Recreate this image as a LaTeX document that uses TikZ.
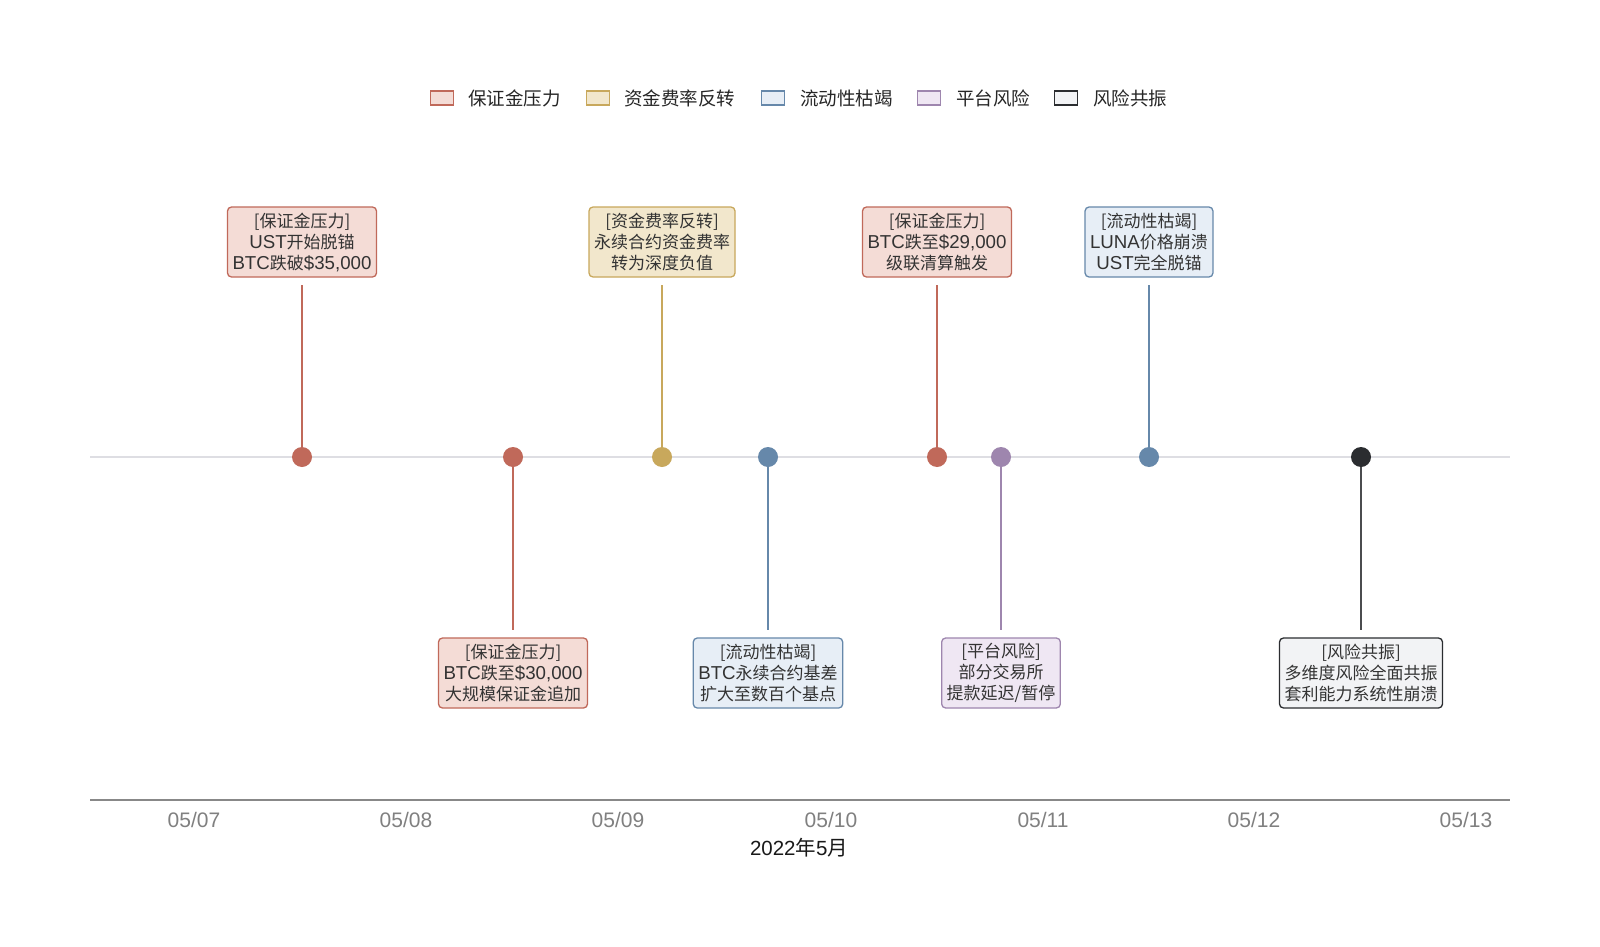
\documentclass[tikz,border=0pt]{standalone}
\usepackage{fontspec}
\setmainfont{Noto Sans CJK SC}
\newfontfamily\latf[Scale=1.1]{Liberation Sans}
\newfontfamily\tickf{Liberation Sans}
\begin{document}
\begin{tikzpicture}[x=1pt,y=-1pt,
  every node/.style={inner sep=0pt, outer sep=0pt},
  evbox/.style={draw, rounded corners=4pt, line width=1.3pt, align=center, font=\fontsize{17}{21}\selectfont, text=black!80, inner xsep=5pt, inner ysep=4pt, minimum height=70pt},
  dotn/.style={circle, minimum size=20pt},
  stem/.style={line width=2pt},
  legsq/.style={draw, line width=1.3pt, minimum width=23pt, minimum height=14pt},
  legtx/.style={anchor=west, font=\fontsize{18.5}{20}\selectfont, text=black!85},
  tick/.style={font=\tickf\fontsize{21}{22}\selectfont, text=black!50},
]
\definecolor{rS}{HTML}{C0695A}\definecolor{rF}{HTML}{F4DCD6}
\definecolor{gS}{HTML}{C8A85C}\definecolor{gF}{HTML}{F2E7CC}
\definecolor{bS}{HTML}{6688AA}\definecolor{bF}{HTML}{E7EEF6}
\definecolor{pS}{HTML}{9E86AE}\definecolor{pF}{HTML}{EFE7F3}
\definecolor{kS}{HTML}{2B2D30}\definecolor{kF}{HTML}{F2F3F5}
\definecolor{tl}{HTML}{DEDEE3}
\definecolor{ax}{HTML}{888888}
\useasboundingbox[fill=white] (0,0) rectangle (1600,947);

% legend
\node[legsq, draw=rS, fill=rF] (l1) at (442,98) {};
\node[legtx] (lt1) at (468,98) {保证金压力};
\node[legsq, draw=gS, fill=gF] (l2) at (598,98) {};
\node[legtx] (lt2) at (624,98) {资金费率反转};
\node[legsq, draw=bS, fill=bF] (l3) at (773,98) {};
\node[legtx] (lt3) at (800,98) {流动性枯竭};
\node[legsq, draw=pS, fill=pF] (l4) at (929,98) {};
\node[legtx] (lt4) at (956,98) {平台风险};
\node[legsq, draw=kS, fill=kF] (l5) at (1066,98) {};
\node[legtx] (lt5) at (1093,98) {风险共振};

% timeline
\coordinate (tlA) at (90,457);
\coordinate (tlB) at (1510,457);
\draw[tl, line width=2pt] (tlA) -- (tlB);

% axis
\coordinate (axA) at (90,800);
\coordinate (axB) at (1510,800);
\draw[ax, line width=2pt] (axA) -- (axB);
\node[tick] (t7) at (194,819.5) {05/07};
\node[tick] (t8) at (406,819.5) {05/08};
\node[tick] (t9) at (618,819.5) {05/09};
\node[tick] (t10) at (831,819.5) {05/10};
\node[tick] (t11) at (1043,819.5) {05/11};
\node[tick] (t12) at (1254,819.5) {05/12};
\node[tick] (t13) at (1466,819.5) {05/13};
\node[font=\fontsize{20.5}{22}\selectfont, text=black!90] (xl) at (799,848) {{\tickf 2022}年{\tickf 5}月};

% boxes
\node[evbox, draw=rS, fill=rF] (b1) at (302,242) {[保证金压力]\\{\latf UST}开始脱锚\\{\latf BTC}跌破{\latf \$35,000}};
\node[evbox, draw=rS, fill=rF] (b2) at (513,673) {[保证金压力]\\{\latf BTC}跌至{\latf \$30,000}\\大规模保证金追加};
\node[evbox, draw=gS, fill=gF] (b3) at (662,242) {[资金费率反转]\\永续合约资金费率\\转为深度负值};
\node[evbox, draw=bS, fill=bF] (b4) at (768,673) {[流动性枯竭]\\{\latf BTC}永续合约基差\\扩大至数百个基点};
\node[evbox, draw=rS, fill=rF] (b5) at (937,242) {[保证金压力]\\{\latf BTC}跌至{\latf \$29,000}\\级联清算触发};
\node[evbox, draw=pS, fill=pF] (b6) at (1001,673) {[平台风险]\\部分交易所\\提款延迟/暂停};
\node[evbox, draw=bS, fill=bF] (b7) at (1149,242) {[流动性枯竭]\\{\latf LUNA}价格崩溃\\{\latf UST}完全脱锚};
\node[evbox, draw=kS, fill=kF] (b8) at (1361,673) {[风险共振]\\多维度风险全面共振\\套利能力系统性崩溃};

% dots
\node[dotn, fill=rS] (d1) at (302,457) {};
\node[dotn, fill=rS] (d2) at (513,457) {};
\node[dotn, fill=gS] (d3) at (662,457) {};
\node[dotn, fill=bS] (d4) at (768,457) {};
\node[dotn, fill=rS] (d5) at (937,457) {};
\node[dotn, fill=pS] (d6) at (1001,457) {};
\node[dotn, fill=bS] (d7) at (1149,457) {};
\node[dotn, fill=kS] (d8) at (1361,457) {};

% stems
\draw[stem, draw=rS, shorten >=8pt] (d1.north) -- (b1.south);
\draw[stem, draw=rS, shorten >=8pt] (d2.south) -- (b2.north);
\draw[stem, draw=gS, shorten >=8pt] (d3.north) -- (b3.south);
\draw[stem, draw=bS, shorten >=8pt] (d4.south) -- (b4.north);
\draw[stem, draw=rS, shorten >=8pt] (d5.north) -- (b5.south);
\draw[stem, draw=pS, shorten >=8pt] (d6.south) -- (b6.north);
\draw[stem, draw=bS, shorten >=8pt] (d7.north) -- (b7.south);
\draw[stem, draw=kS!85, shorten >=8pt] (d8.south) -- (b8.north);
\end{tikzpicture}
\end{document}
